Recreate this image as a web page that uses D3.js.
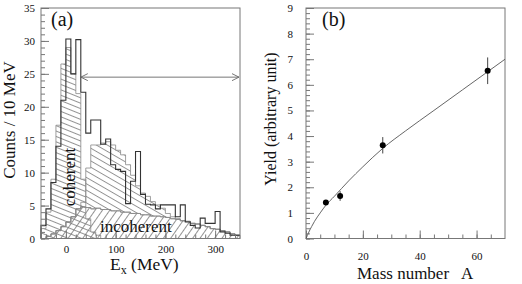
<!DOCTYPE html>
<html>
<head>
<meta charset="utf-8">
<script src="https://cdn.jsdelivr.net/npm/d3@7"></script>
<style>
  body { margin: 0; background: #fff; }
  text { font-family: "Liberation Serif", "DejaVu Serif", serif; fill: #111; }
</style>
</head>
<body>
<div id="chart"></div>
<script>
// lower edges of the 10 MeV bins, panel (a)
var binLow = [-50,-40,-30,-20,-10,0,10,20,30,40,50,60,70,80,90,100,110,120,130,140,
              150,160,170,180,190,200,210,220,230,240,250,260,270,280,290,300,310,320,330,340];

// measured spectrum (outline)
var measured = [2,4.5,8.5,14,21,30.3,25,30.2,22.2,16,18,18,14.3,15.1,11.2,10.5,10.2,5.3,8.7,13.2,
                6.7,5.2,5.1,4.5,5.1,5.1,5.1,3.3,5.1,2.5,2.0,1.6,3.1,2.3,2.3,4.1,1.0,0.8,0.5,0.5];

// coherent part
var coherent = [1.5,4,9,17.2,26.5,29,25,22,9,3,1,0.5,0,0,0,0,0,0,0,0,
                0,0,0,0,0,0,0,0,0,0,0,0,0,0,0,0,0,0,0,0];

// broad hump (top of the band drawn above the incoherent part)
var hump = [0,0,0,0,0,0,1,2.5,5.5,10.7,14.2,14.2,14.5,14.7,14.2,13.4,12.7,11.2,9.6,8.0,
            6.9,6.4,5.6,5.1,4.6,3.8,3.3,3.0,2.5,2.0,1.5,1.1,0.8,0.5,0.3,0,0,0,0,0];

// incoherent part
var incoherent = [0,0.3,0.7,1.2,1.8,2.5,3.3,4.5,4.8,4.7,4.5,4.6,4.4,4.4,4.2,4.2,4.0,4.0,3.8,3.8,
                  3.6,3.6,3.4,3.4,3.3,3.2,3.0,2.9,2.7,2.6,2.3,2.2,2.0,1.8,1.5,1.4,1.2,1.0,0.7,0.5];

var arrowRange = [30, 348], arrowLevel = 24.5;

// panel (b)
var massNumber = [7, 12, 27, 63.9];
var yieldVal   = [1.41, 1.66, 3.64, 6.55];
var yieldErr   = [0.08, 0.19, 0.32, 0.52];

// fitted curve
var fitA = [0, 0.5, 1, 2, 3, 5, 7, 10, 15, 20, 27, 35, 45, 55, 63, 70];
var fitY = [0, 0.12, 0.25, 0.47, 0.67, 1.0, 1.3, 1.65, 2.25, 2.8, 3.52, 4.2, 5.0, 5.8, 6.44, 7.0];

var W = 522, H = 284;
var svg = d3.select("#chart").append("svg")
  .attr("width", W).attr("height", H);

var defs = svg.append("defs");
function hatch(id, angle, gap) {
  var p = defs.append("pattern")
    .attr("id", id)
    .attr("patternUnits", "userSpaceOnUse")
    .attr("width", 20).attr("height", gap)
    .attr("patternTransform", "rotate(" + angle + ")");
  p.append("line")
    .attr("x1", 0).attr("y1", 0.5).attr("x2", 20).attr("y2", 0.5)
    .attr("stroke", "#777").attr("stroke-width", 0.8);
}
hatch("hCoh", 22, 5);
hatch("hHump", 30, 5.5);
hatch("hInc", -55, 6);

var plotTop = 8, plotBottom = 238.5;

// ---------- panel (a) ----------
var xa = d3.scaleLinear().domain([-50, 350]).range([41, 240]);
var ya = d3.scaleLinear().domain([0, 35]).range([plotBottom, plotTop]);

function steps(vals) {
  var pts = binLow.map(function(e, i) { return {x: e, v: vals[i]}; });
  pts.push({x: 350, v: vals[vals.length - 1]});
  return pts;
}

var ga = svg.append("g");

var areaA = d3.area()
  .curve(d3.curveStepAfter)
  .x(function(d) { return xa(d.x); })
  .y0(ya(0))
  .y1(function(d) { return ya(d.v); });

ga.append("path")
  .attr("d", areaA(steps(incoherent)))
  .attr("fill", "url(#hInc)").attr("stroke", "#888").attr("stroke-width", 0.8);

ga.append("path")
  .attr("d", areaA(steps(coherent)))
  .attr("fill", "url(#hCoh)").attr("stroke", "#888").attr("stroke-width", 0.8);

var humpPts = binLow.map(function(e, i) {
  return {x: e, lo: incoherent[i], hi: Math.max(hump[i], incoherent[i])};
});
humpPts.push({x: 350, lo: incoherent[39], hi: Math.max(hump[39], incoherent[39])});
ga.append("path")
  .attr("d", d3.area()
    .curve(d3.curveStepAfter)
    .x(function(d) { return xa(d.x); })
    .y0(function(d) { return ya(d.lo); })
    .y1(function(d) { return ya(d.hi); })(humpPts))
  .attr("fill", "url(#hHump)").attr("stroke", "#888").attr("stroke-width", 0.8);

// measured outline
ga.append("path")
  .attr("d", "M" + xa(-50) + "," + ya(0) +
    d3.line()
      .curve(d3.curveStepAfter)
      .x(function(d) { return xa(d.x); })
      .y(function(d) { return ya(d.v); })(steps(measured)).replace(/^M/, "L"))
  .attr("fill", "none").attr("stroke", "#333").attr("stroke-width", 1.1);

// double arrow
var ay = ya(arrowLevel), ax0 = xa(arrowRange[0]), ax1 = xa(arrowRange[1]);
ga.append("path")
  .attr("d", "M" + ax0 + "," + ay + "H" + ax1 +
    "M" + (ax0 + 7) + "," + (ay - 3.5) + "L" + ax0 + "," + ay + "L" + (ax0 + 7) + "," + (ay + 3.5) +
    "M" + (ax1 - 7) + "," + (ay - 3.5) + "L" + ax1 + "," + ay + "L" + (ax1 - 7) + "," + (ay + 3.5))
  .attr("fill", "none").attr("stroke", "#666").attr("stroke-width", 0.9);

function styleAxis(g) {
  g.select(".domain").remove();
  g.selectAll("line").attr("stroke", "#777");
  g.selectAll("text").style("font-family", "Liberation Serif, serif").attr("fill", "#111");
}

// axes (a)
ga.append("g").attr("transform", "translate(0," + plotBottom + ")")
  .call(d3.axisBottom(xa).tickValues(d3.range(-40, 350, 20)).tickSize(-4).tickFormat(""))
  .call(styleAxis);
ga.append("g").attr("transform", "translate(0," + plotBottom + ")")
  .call(d3.axisBottom(xa).tickValues([0, 100, 200, 300]).tickSize(-8).tickPadding(6.5))
  .call(styleAxis)
  .selectAll("text").attr("font-size", 11).attr("y", 6.5);
ga.append("g").attr("transform", "translate(41,0)")
  .call(d3.axisLeft(ya).tickValues(d3.range(0, 35, 1)).tickSize(-4).tickFormat(""))
  .call(styleAxis);
ga.append("g").attr("transform", "translate(41,0)")
  .call(d3.axisLeft(ya).tickValues(d3.range(0, 36, 5)).tickSize(-8).tickPadding(6))
  .call(styleAxis)
  .selectAll("text").attr("font-size", 11).attr("x", -6);

ga.append("rect")
  .attr("x", 41).attr("y", plotTop).attr("width", 199).attr("height", plotBottom - plotTop)
  .attr("fill", "none").attr("stroke", "#777").attr("stroke-width", 1);

ga.append("text").attr("x", 51).attr("y", 26).attr("font-size", 20).text("(a)");
ga.append("text")
  .attr("transform", "translate(14.5,120) rotate(-90)")
  .attr("text-anchor", "middle").attr("font-size", 17)
  .text("Counts / 10 MeV");
var ex = ga.append("text").attr("x", 110).attr("y", 270).attr("font-size", 17.5);
ex.append("tspan").text("E");
ex.append("tspan").attr("font-size", 12).attr("dy", 4).text("x");
ex.append("tspan").attr("dy", -4).text(" (MeV)");
ga.append("text")
  .attr("transform", "translate(75,177) rotate(-90)")
  .attr("text-anchor", "middle").attr("font-size", 17)
  .text("coherent");
ga.append("text").attr("x", 100).attr("y", 232).attr("font-size", 17).text("incoherent");

// ---------- panel (b) ----------
var xb = d3.scaleLinear().domain([0, 70]).range([306, 505]);
var yb = d3.scaleLinear().domain([0, 9]).range([plotBottom, plotTop]);
var gb = svg.append("g");

gb.append("g").attr("transform", "translate(0," + plotBottom + ")")
  .call(d3.axisBottom(xb).tickValues(d3.range(5, 70, 5)).tickSize(-4).tickFormat(""))
  .call(styleAxis);
gb.append("g").attr("transform", "translate(0," + plotBottom + ")")
  .call(d3.axisBottom(xb).tickValues([0, 20, 40, 60]).tickSize(-8).tickPadding(14))
  .call(styleAxis)
  .selectAll("text").attr("font-size", 11).attr("y", 14);
gb.append("g").attr("transform", "translate(306,0)")
  .call(d3.axisLeft(yb).tickValues(d3.range(0, 9, 0.2)).tickSize(-4).tickFormat(""))
  .call(styleAxis);
gb.append("g").attr("transform", "translate(306,0)")
  .call(d3.axisLeft(yb).tickValues(d3.range(0, 10, 1)).tickSize(-8).tickPadding(13))
  .call(styleAxis)
  .selectAll("text").attr("font-size", 11).attr("x", -13);

gb.append("rect")
  .attr("x", 306).attr("y", plotTop).attr("width", 199).attr("height", plotBottom - plotTop)
  .attr("fill", "none").attr("stroke", "#777").attr("stroke-width", 1);

gb.append("path")
  .datum(fitA.map(function(a, i) { return [a, fitY[i]]; }))
  .attr("d", d3.line()
    .curve(d3.curveMonotoneX)
    .x(function(d) { return xb(d[0]); })
    .y(function(d) { return yb(d[1]); }))
  .attr("fill", "none").attr("stroke", "#555").attr("stroke-width", 0.9);

var pts = massNumber.map(function(a, i) { return {a: a, y: yieldVal[i], e: yieldErr[i]}; });
gb.selectAll(".err").data(pts).enter().append("line")
  .attr("x1", function(d) { return xb(d.a); })
  .attr("x2", function(d) { return xb(d.a); })
  .attr("y1", function(d) { return yb(d.y - d.e); })
  .attr("y2", function(d) { return yb(d.y + d.e); })
  .attr("stroke", "#444").attr("stroke-width", 1);
gb.selectAll(".pt").data(pts).enter().append("circle")
  .attr("cx", function(d) { return xb(d.a); })
  .attr("cy", function(d) { return yb(d.y); })
  .attr("r", 3).attr("fill", "#000");

gb.append("text").attr("x", 322).attr("y", 26).attr("font-size", 20).text("(b)");
gb.append("text")
  .attr("transform", "translate(276,119) rotate(-90)")
  .attr("text-anchor", "middle").attr("font-size", 16)
  .text("Yield (arbitrary unit)");
gb.append("text").attr("x", 357).attr("y", 279).attr("font-size", 17)
  .attr("xml:space", "preserve").style("white-space", "pre")
  .text("Mass number   A");
</script>
</body>
</html>
